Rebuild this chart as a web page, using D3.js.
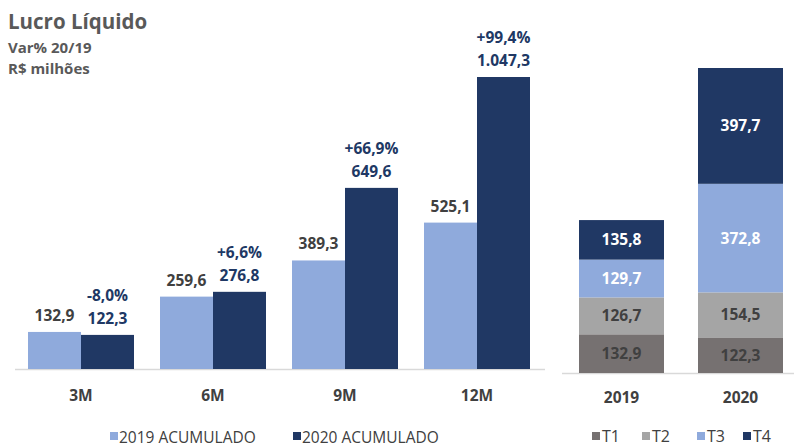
<!DOCTYPE html>
<html><head><meta charset="utf-8">
<script src="https://cdn.jsdelivr.net/npm/d3@7"></script>
<style>body{margin:0;background:#fff}svg{display:block;font-family:"Open Sans",sans-serif}</style>
</head><body><svg id="c" width="794" height="448"></svg>
<script>
const categories = ["3M","6M","9M","12M"];
const acc2019 = [132.9,259.6,389.3,525.1];
const acc2020 = [122.3,276.8,649.6,1047.3];
const varPct = ["-8,0%","+6,6%","+66,9%","+99,4%"];
const seriesNames = ["2019 ACUMULADO","2020 ACUMULADO"];
const years = ["2019","2020"];
const quarters = ["T1","T2","T3","T4"];
const q2019 = [132.9,126.7,129.7,135.8];
const q2020 = [122.3,154.5,372.8,397.7];

const loc = d3.formatLocale({decimal:",",thousands:".",grouping:[3],currency:["R$",""]});
const fmt = loc.format(",.1f");
const LIGHT="#8FAADC", NAVY="#203864", DARK="#404040";
const qColors = ["#767171","#A5A5A5","#8FAADC","#203864"];
const qText = ["#404040","#404040","#ffffff","#ffffff"];

const svg = d3.select("#c");

// Titles
svg.append("text").attr("x",8).attr("y",29).attr("font-size",20.5).attr("font-weight",700).attr("fill","#595959").text("Lucro Líquido");
svg.append("text").attr("x",8).attr("y",53).attr("font-size",15).attr("font-weight",700).attr("fill","#595959").text("Var% 20/19");
svg.append("text").attr("x",8).attr("y",74).attr("font-size",15).attr("font-weight",700).attr("fill","#595959").text("R$ milhões");

// Left chart
const x0 = d3.scaleBand().domain(categories).range([15,543]).paddingInner(0.197).paddingOuter(0.0985);
const x1 = d3.scaleBand().domain(seriesNames).range([0,x0.bandwidth()]);
const y = d3.scaleLinear().domain([0,1047.3]).range([369,77]);

svg.append("line").attr("x1",15).attr("x2",545).attr("y1",369.5).attr("y2",369.5).attr("stroke","#D9D9D9").attr("stroke-width",1.5);

const g = svg.append("g");
categories.forEach((c,i)=>{
  const vals=[acc2019[i],acc2020[i]];
  vals.forEach((v,j)=>{
    const bx = x0(c)+x1(seriesNames[j]);
    g.append("rect").attr("x",bx).attr("y",y(v)).attr("width",x1.bandwidth()).attr("height",y(0)-y(v)).attr("fill",j?NAVY:LIGHT);
    g.append("text").attr("x",bx+x1.bandwidth()/2).attr("y",y(v)-11).attr("text-anchor","middle")
      .attr("font-size",15.5).attr("font-weight",700).attr("fill",j?NAVY:DARK).text(fmt(v));
    if(j===1){
      g.append("text").attr("x",bx+x1.bandwidth()/2).attr("y",y(v)-34).attr("text-anchor","middle")
        .attr("font-size",15.5).attr("font-weight",700).attr("fill",NAVY).text(varPct[i]);
    }
  });
  g.append("text").attr("x",x0(c)+x0.bandwidth()/2).attr("y",401).attr("text-anchor","middle")
    .attr("font-size",15.5).attr("font-weight",700).attr("fill",DARK).text(c);
});

// Left legend
const legL = [{x:110,t:seriesNames[0],c:LIGHT},{x:293,t:seriesNames[1],c:NAVY}];
legL.forEach(d=>{
  svg.append("rect").attr("x",d.x).attr("y",432).attr("width",8).attr("height",8).attr("fill",d.c);
  svg.append("text").attr("x",d.x+9).attr("y",443).attr("font-size",15.5).attr("fill",DARK).text(d.t);
});

// Right chart
const xr = d3.scaleBand().domain(years).range([562,800]).paddingInner(0.2857).paddingOuter(0.1429);
const yr = d3.scaleLinear().domain([0,1047.3]).range([373,68]);
svg.append("line").attr("x1",562).attr("x2",794).attr("y1",373.5).attr("y2",373.5).attr("stroke","#D9D9D9").attr("stroke-width",1.5);
const qdata = [q2019,q2020];
years.forEach((yy,i)=>{
  let acc=0;
  qdata[i].forEach((v,k)=>{
    const y0=acc, y1=acc+v; acc=y1;
    svg.append("rect").attr("x",xr(yy)).attr("y",yr(y1)).attr("width",xr.bandwidth()).attr("height",yr(y0)-yr(y1)).attr("fill",qColors[k]);
    svg.append("text").attr("x",xr(yy)+xr.bandwidth()/2).attr("y",(yr(y0)+yr(y1))/2).attr("dy","0.36em").attr("text-anchor","middle")
      .attr("font-size",15.5).attr("font-weight",700).attr("fill",qText[k]).text(fmt(v));
  });
  svg.append("text").attr("x",xr(yy)+xr.bandwidth()/2).attr("y",403).attr("text-anchor","middle")
    .attr("font-size",15.5).attr("font-weight",700).attr("fill",DARK).text(yy);
});

// Right legend
const legR=[592,642,697,743];
quarters.forEach((q,k)=>{
  svg.append("rect").attr("x",legR[k]).attr("y",432).attr("width",8).attr("height",8).attr("fill",qColors[k]);
  svg.append("text").attr("x",legR[k]+10).attr("y",442).attr("font-size",16).attr("fill",DARK).text(q);
});
</script></body></html>
